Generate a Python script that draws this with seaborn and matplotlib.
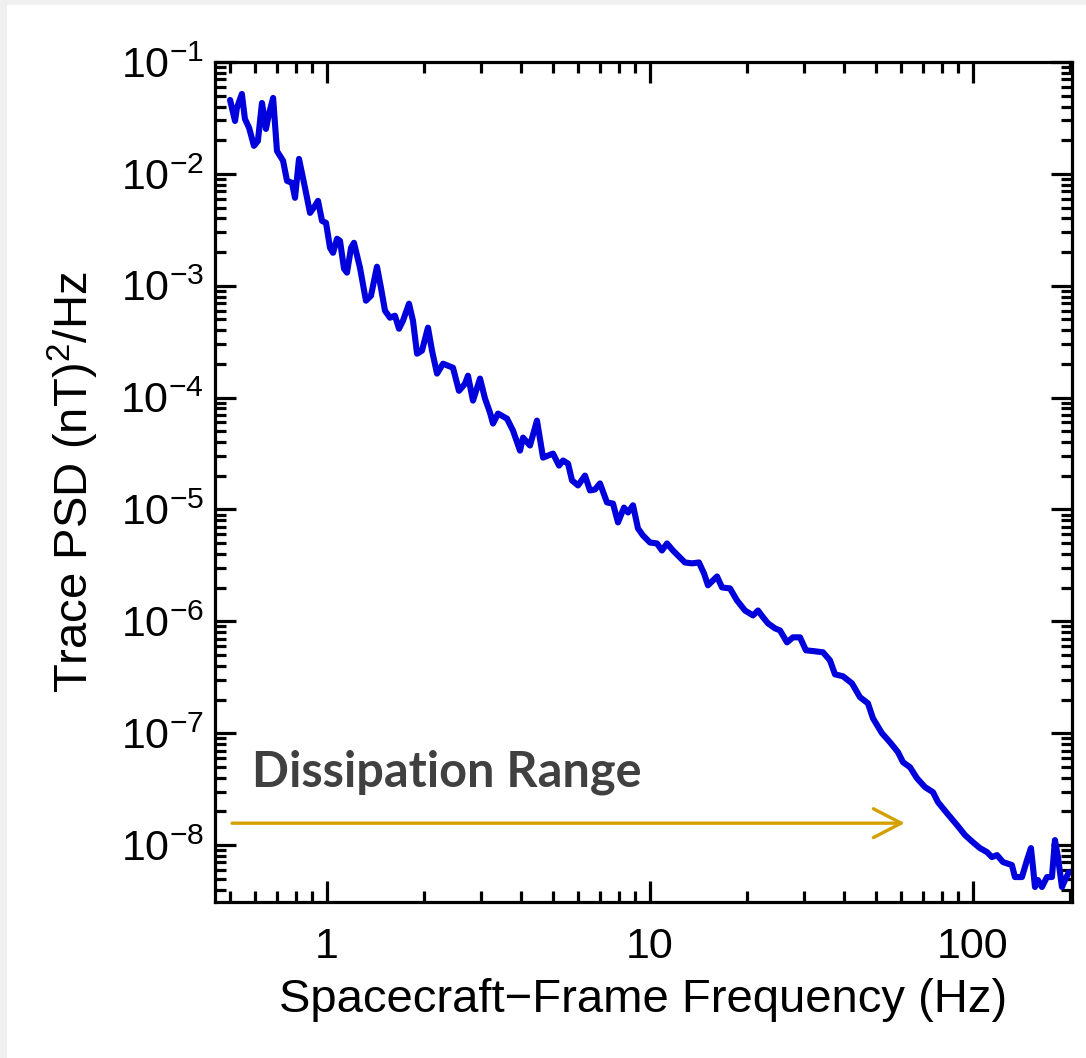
import numpy as np
import pandas as pd
import matplotlib
matplotlib.use("Agg")
import matplotlib.pyplot as plt
import seaborn as sns
from matplotlib.patches import Rectangle
from matplotlib.ticker import LogLocator, NullFormatter

# ---------------- data ----------------
freq_hz = [
    0.501, 0.519, 0.526, 0.545, 0.557, 0.574, 0.594, 0.611, 0.629, 0.647,
    0.661, 0.681, 0.700, 0.731, 0.752, 0.779, 0.796, 0.819, 0.855, 0.886,
    0.918, 0.938, 0.965, 0.993, 1.022, 1.044, 1.074, 1.097, 1.129, 1.153,
    1.187, 1.212, 1.265, 1.320, 1.368, 1.428, 1.469, 1.512, 1.567, 1.623,
    1.671, 1.719, 1.794, 1.846, 1.900, 1.968, 2.054, 2.114, 2.191, 2.287,
    2.370, 2.455, 2.562, 2.674, 2.732, 2.831, 2.977, 3.085, 3.196, 3.266,
    3.384, 3.608, 3.766, 3.959, 4.045, 4.251, 4.468, 4.665, 5.009, 5.228,
    5.380, 5.575, 5.736, 5.987, 6.292, 6.520, 6.756, 7.002, 7.360, 7.681,
    7.960, 8.308, 8.551, 8.860, 9.180, 9.513, 10.00, 10.51, 10.89, 11.29,
    11.78, 12.38, 12.83, 13.49, 14.18, 14.70, 15.12, 16.13, 16.71, 17.69,
    18.59, 19.69, 20.84, 21.60, 22.38, 23.19, 24.38, 25.26, 26.56, 27.72,
    29.13, 30.41, 32.43, 34.33, 36.08, 37.40, 39.58, 42.21, 44.69, 47.30,
    49.02, 52.27, 55.34, 58.59, 60.72, 63.83, 67.09, 71.03, 75.20, 77.93,
    83.09, 89.25, 94.46, 100.0, 105.1, 110.5, 114.5, 118.7, 123.9, 132.0,
    134.9, 141.8, 147.0, 151.2, 153.4, 155.6, 158.9, 163.5, 169.5, 175.6,
    179.4, 183.3, 188.6, 192.7, 198.3,
]
trace_psd = [
    4.58e-2, 2.97e-2, 3.88e-2, 5.18e-2, 3.10e-2, 2.57e-2, 1.78e-2, 1.97e-2, 4.30e-2, 2.52e-2,
    3.43e-2, 4.77e-2, 1.60e-2, 1.31e-2, 8.66e-3, 8.31e-3, 6.11e-3, 1.36e-2, 7.50e-3, 4.48e-3,
    5.18e-3, 5.74e-3, 3.80e-3, 3.65e-3, 2.18e-3, 1.97e-3, 2.63e-3, 2.52e-3, 1.42e-3, 1.31e-3,
    2.18e-3, 2.42e-3, 1.45e-3, 7.35e-4, 8.14e-4, 1.48e-3, 9.60e-4, 5.98e-4, 5.18e-4, 5.40e-4,
    4.13e-4, 4.87e-4, 6.91e-4, 4.87e-4, 2.47e-4, 2.63e-4, 4.22e-4, 2.63e-4, 1.64e-4, 2.01e-4,
    1.93e-4, 1.85e-4, 1.15e-4, 1.33e-4, 1.57e-4, 9.40e-5, 1.48e-4, 9.80e-5, 7.35e-5, 5.86e-5,
    7.20e-5, 6.49e-5, 5.07e-5, 3.36e-5, 4.39e-5, 3.73e-5, 6.23e-5, 2.91e-5, 3.16e-5, 2.47e-5,
    2.74e-5, 2.57e-5, 1.82e-5, 1.64e-5, 2.01e-5, 1.48e-5, 1.51e-5, 1.71e-5, 1.155e-5, 1.13e-5,
    7.66e-6, 1.04e-5, 9.40e-6, 1.09e-5, 6.77e-6, 5.86e-6, 5.07e-6, 4.97e-6, 4.30e-6, 4.97e-6,
    4.30e-6, 3.73e-6, 3.36e-6, 3.30e-6, 3.36e-6, 2.68e-6, 2.10e-6, 2.52e-6, 2.01e-6, 1.97e-6,
    1.54e-6, 1.25e-6, 1.13e-6, 1.25e-6, 1.09e-6, 9.60e-7, 8.66e-7, 8.31e-7, 6.49e-7, 7.20e-7,
    7.20e-7, 5.51e-7, 5.40e-7, 5.29e-7, 4.48e-7, 3.36e-7, 3.23e-7, 2.79e-7, 2.10e-7, 1.85e-7,
    1.36e-7, 1.00e-7, 8.31e-8, 6.77e-8, 5.51e-8, 4.97e-8, 3.96e-8, 3.30e-8, 2.97e-8, 2.42e-8,
    1.93e-8, 1.51e-8, 1.23e-8, 1.06e-8, 9.40e-9, 8.66e-9, 7.81e-9, 8.14e-9, 7.05e-9, 6.63e-9,
    5.18e-9, 5.18e-9, 7.35e-9, 9.40e-9, 6.36e-9, 4.22e-9, 4.87e-9, 4.22e-9, 5.18e-9, 5.18e-9,
    1.108e-8, 7.81e-9, 4.22e-9, 4.87e-9, 5.74e-9,
]

x_ticks = [1, 10, 100]
x_tick_labels = ["1", "10", "100"]
y_ticks = [1e-8, 1e-7, 1e-6, 1e-5, 1e-4, 1e-3, 1e-2, 1e-1]
y_tick_labels = [r"$\mathdefault{10^{-8}}$", r"$\mathdefault{10^{-7}}$",
                 r"$\mathdefault{10^{-6}}$", r"$\mathdefault{10^{-5}}$",
                 r"$\mathdefault{10^{-4}}$", r"$\mathdefault{10^{-3}}$",
                 r"$\mathdefault{10^{-2}}$", r"$\mathdefault{10^{-1}}$"]

x_label = "Spacecraft\u2212Frame Frequency (Hz)"
y_label = "Trace PSD (nT)$^2$/Hz"
annotation_text = "Dissipation Range"
annotation_xy = (0.586, 3.36e-8)
arrow_from = (0.508, 1.57e-8)
arrow_to = (61.5, 1.57e-8)

# ---------------- style ----------------
sns.set_style("ticks")
plt.rcParams["font.family"] = ["Liberation Sans", "DejaVu Sans"]
plt.rcParams["mathtext.fontset"] = "custom"
plt.rcParams["mathtext.rm"] = "Liberation Sans"
plt.rcParams["mathtext.it"] = "Liberation Sans:italic"
plt.rcParams["mathtext.bf"] = "Liberation Sans:bold"
plt.rcParams["text.color"] = "black"
plt.rcParams["axes.labelcolor"] = "black"
plt.rcParams["xtick.color"] = "black"
plt.rcParams["ytick.color"] = "black"
plt.rcParams["xtick.labelcolor"] = "black"
plt.rcParams["ytick.labelcolor"] = "black"

W, H = 1086, 1058
fig = plt.figure(figsize=(W / 100, H / 100), dpi=100, facecolor="#f0f0f0")
fig.add_artist(Rectangle((7 / W, 0), 1, 1 - 5 / H, transform=fig.transFigure,
                         facecolor="white", edgecolor="none", zorder=-10))

left, right, top, bottom = 215 / W, 1072 / W, 1 - 62 / H, 1 - 902 / H
ax = fig.add_axes([left, bottom, right - left, top - bottom])
ax.set_facecolor("white")

df = pd.DataFrame({"freq": freq_hz, "psd": trace_psd})
sns.lineplot(data=df, x="freq", y="psd", ax=ax, color="#0000dd", linewidth=4.4,
             estimator=None, sort=False, solid_joinstyle="round", solid_capstyle="round")

ax.set_xscale("log")
ax.set_yscale("log")
ax.set_xlim(0.45, 202.6)
ax.set_ylim(3.1e-9, 1e-1)

ax.set_xticks(x_ticks, labels=x_tick_labels)
ax.set_yticks(y_ticks, labels=y_tick_labels)
ax.xaxis.set_minor_locator(LogLocator(base=10, subs=np.arange(2, 10), numticks=100))
ax.yaxis.set_minor_locator(LogLocator(base=10, subs=np.arange(2, 10), numticks=100))
ax.xaxis.set_minor_formatter(NullFormatter())
ax.yaxis.set_minor_formatter(NullFormatter())

ax.tick_params(which="both", direction="in", top=True, right=True, width=2.3, color="black")
ax.tick_params(which="major", length=15, labelsize=31)
ax.tick_params(which="minor", length=8)
ax.tick_params(axis="x", which="major", pad=18)
ax.tick_params(axis="y", which="major", pad=8)
for s in ax.spines.values():
    s.set_linewidth(2.3)
    s.set_color("black")

ax.set_xlabel(x_label, fontsize=34, labelpad=8)
ax.set_ylabel(y_label, fontsize=34, labelpad=14)

ax.text(annotation_xy[0], annotation_xy[1], annotation_text, fontsize=35,
        fontweight="bold", color="#404040", family=["Lato", "DejaVu Sans"], va="baseline")
ax.annotate("", xy=arrow_to, xytext=arrow_from,
            arrowprops=dict(arrowstyle="->,head_length=1.0,head_width=0.52",
                            color="#d4a000", lw=2.4, mutation_scale=20,
                            shrinkA=0, shrinkB=0))

fig.savefig("out.png", dpi=100, facecolor=fig.get_facecolor())
